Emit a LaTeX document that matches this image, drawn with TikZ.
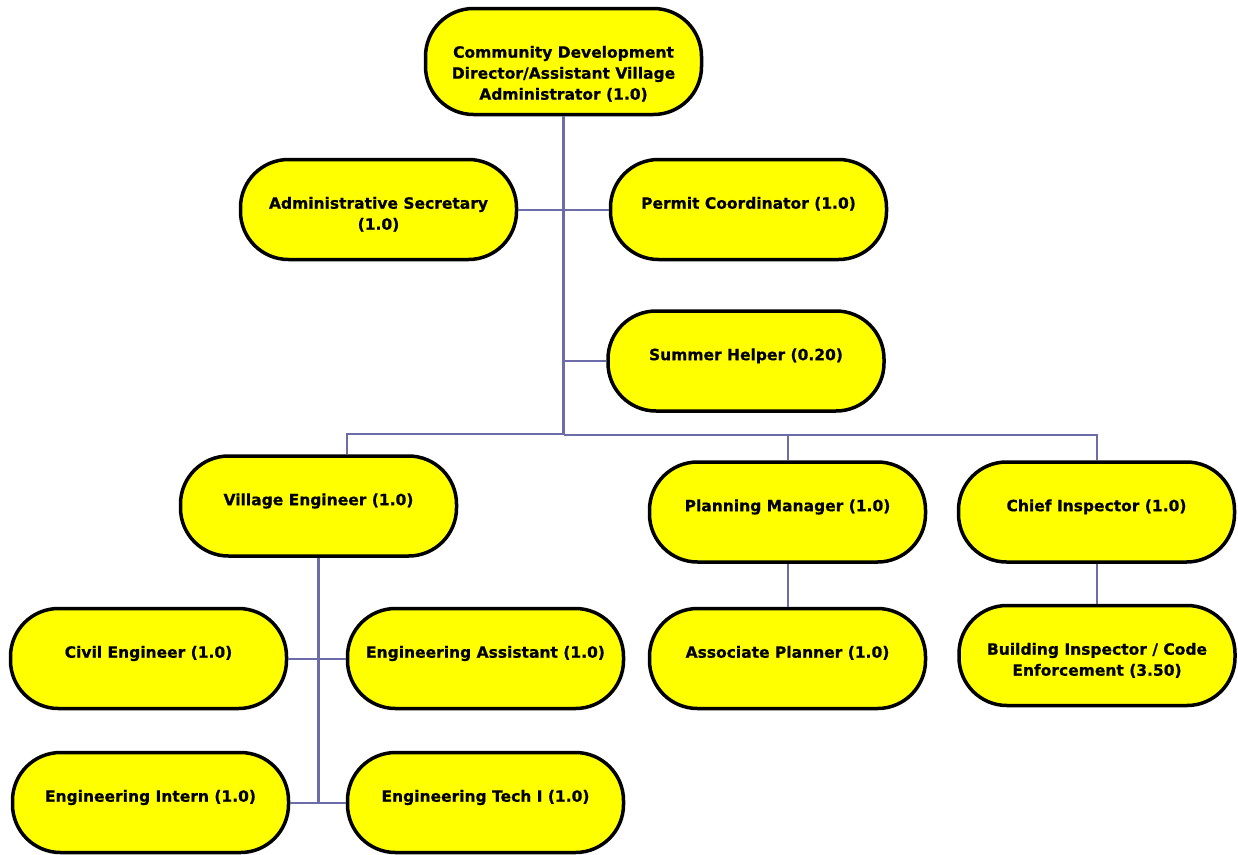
\documentclass[tikz,border=0pt]{standalone}
\usepackage{fontspec}
\setmainfont{DejaVu Sans}[BoldFeatures={FakeBold=0.6}]
\definecolor{boxfill}{RGB}{255,255,0}
\definecolor{linkcol}{RGB}{108,108,168}
% Role text: top-aligned block inside a fixed-height box
\newcommand{\roletext}[2][100pt]{\parbox[c][#1][t]{268pt}{\centering\vspace*{34.5pt}\strut #2}}

\begin{document}
\begin{tikzpicture}[x=1pt,y=-1pt,
  role/.style={draw=black, line width=3.5pt, fill=boxfill, rounded corners=48pt,
    inner sep=0pt, minimum width=276pt,
    font=\fontsize{15.5}{21}\selectfont\bfseries},
  link/.style={draw=linkcol, line width=2pt},
  trunk/.style={link, line width=2.4pt}]
\useasboundingbox (0,0) rectangle (1238,854);

\coordinate (hub) at (563.5,435);
\coordinate (busL) at (347,434);

% boxes
\node[role] (top)     at (563.5,61.5) {\roletext[106pt]{Community Development\\Director/Assistant Village\\Administrator (1.0)}};
\node[role] (adm)     at (378.5,209.5) {\roletext{Administrative Secretary\\(1.0)}};
\node[role] (perm)    at (748.5,209.5) {\roletext{Permit Coordinator (1.0)}};
\node[role] (sum)     at (746,361)     {\roletext{Summer Helper (0.20)}};
\node[role] (veng)    at (318.5,506)   {\roletext{Village Engineer (1.0)}};
\node[role] (plan)    at (787.5,512)   {\roletext{Planning Manager (1.0)}};
\node[role] (chief)   at (1096.5,512)  {\roletext{Chief Inspector (1.0)}};
\node[role] (civil)   at (148.5,658.5) {\roletext{Civil Engineer (1.0)}};
\node[role] (eassist) at (485.5,658.5) {\roletext{Engineering Assistant (1.0)}};
\node[role] (assoc)   at (787.5,658.5) {\roletext{Associate Planner (1.0)}};
\node[role] (binsp)   at (1097,655.5)  {\roletext{Building Inspector / Code\\Enforcement (3.50)}};
\node[role] (intern)  at (150.5,802.5) {\roletext{Engineering Intern (1.0)}};
\node[role] (etech)   at (485.5,802.5) {\roletext{Engineering Tech I (1.0)}};

% reporting lines
\draw[trunk] (top.south) -- (hub);
\draw[link] (adm.east) -- (perm.west);
\draw[link] (top.south |- sum.west) -- (sum.west);
\draw[link] (hub |- busL) -- (busL) -- (busL |- veng.north);
\draw[link] (hub) -| (plan.north);
\draw[link] (hub) -| (chief.north);
\draw[trunk] (veng.south) -- (veng.south |- intern.east);
\draw[link] (civil.east) -- (eassist.west);
\draw[link] (intern.east) -- (etech.west);
\draw[link] (plan.south) -- (assoc.north);
\draw[link] (chief.south) -- (chief.south |- binsp.north);
\end{tikzpicture}
\end{document}
